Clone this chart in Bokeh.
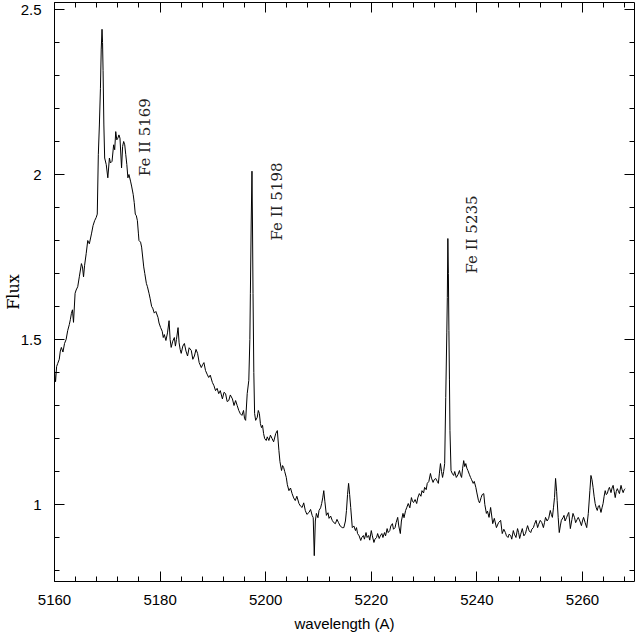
import math
from bokeh.plotting import figure
from bokeh.models import (ColumnDataSource, LinearAxis, SingleIntervalTicker,
                          Range1d, CustomJSTickFormatter)
from bokeh.embed import file_html
from bokeh.resources import INLINE
from bokeh.core.properties import value

# ---- spectrum (wavelength in Angstrom, flux) ----
wavelength = [
    5160.0, 5160.2, 5160.4, 5160.6, 5160.9, 5161.1, 5161.3, 5161.6, 5161.9, 5162.2,
    5162.5, 5162.8, 5163.0, 5163.2, 5163.4, 5163.6, 5163.9, 5164.1, 5164.4, 5164.7,
    5165.1, 5165.3, 5165.5, 5165.7, 5166.0, 5166.3, 5166.6, 5167.0, 5167.3, 5167.6,
    5167.9, 5168.1, 5168.3, 5168.5, 5168.7, 5168.85, 5169.0, 5169.1, 5169.2, 5169.35,
    5169.5, 5169.8, 5170.1, 5170.4, 5170.6, 5170.9, 5171.2, 5171.4, 5171.6, 5171.8,
    5172.0, 5172.2, 5172.4, 5172.7, 5172.9, 5173.1, 5173.3, 5173.5, 5173.7, 5173.9,
    5174.1, 5174.4, 5174.6, 5174.9, 5175.1, 5175.3, 5175.5, 5175.7, 5175.9, 5176.0,
    5176.3, 5176.5, 5176.7, 5176.9, 5177.1, 5177.4, 5177.6, 5177.9, 5178.1, 5178.4,
    5178.6, 5178.9, 5179.2, 5179.6, 5179.8, 5180.1, 5180.4, 5180.6, 5180.8, 5181.1,
    5181.4, 5181.7, 5181.9, 5182.1, 5182.4, 5182.7, 5182.9, 5183.1, 5183.4, 5183.6,
    5183.8, 5184.0, 5184.3, 5184.6, 5184.9, 5185.2, 5185.5, 5185.9, 5186.2, 5186.5,
    5186.8, 5187.1, 5187.4, 5187.8,
    5188.1, 5188.3, 5188.6, 5188.9, 5189.2, 5189.5, 5189.9, 5190.2, 5190.5, 5190.8,
    5191.1, 5191.4, 5191.8, 5192.1, 5192.4, 5192.7, 5193.0, 5193.3, 5193.7, 5194.0,
    5194.3, 5194.6, 5194.9, 5195.2, 5195.5, 5195.8, 5196.0, 5196.2, 5196.5, 5196.8,
    5197.0, 5197.1, 5197.25, 5197.4, 5197.5, 5197.6, 5197.75, 5197.9, 5198.1, 5198.4,
    5198.6, 5198.8, 5199.0, 5199.2, 5199.4, 5199.6, 5199.8, 5200.1, 5200.3, 5200.6,
    5200.9, 5201.2, 5201.5, 5201.9, 5202.2, 5202.5, 5202.7, 5203.0, 5203.2, 5203.4,
    5203.6, 5203.9, 5204.1, 5204.4, 5204.7, 5205.0, 5205.3, 5205.6, 5205.9, 5206.3,
    5206.6, 5206.9, 5207.2, 5207.5, 5207.8, 5208.2, 5208.5, 5208.8, 5209.0, 5209.2,
    5209.4, 5209.6, 5209.9, 5210.1, 5210.4, 5210.6, 5210.8, 5211.0, 5211.2, 5211.5,
    5211.8, 5212.0, 5212.3, 5212.6, 5212.9, 5213.2, 5213.5, 5213.8, 5214.1, 5214.5,
    5214.8, 5215.1, 5215.3, 5215.5, 5215.7, 5215.9, 5216.1, 5216.4, 5216.7, 5217.0,
    5217.2, 5217.4, 5217.7, 5218.0, 5218.2, 5218.5, 5218.7, 5219.0, 5219.2, 5219.5,
    5219.7, 5220.0, 5220.2, 5220.5, 5220.7, 5221.0, 5221.2, 5221.5, 5221.7, 5222.0,
    5222.2, 5222.5, 5222.7, 5223.0, 5223.2, 5223.5, 5223.7, 5224.0, 5224.2, 5224.5,
    5224.7, 5225.0, 5225.2, 5225.5, 5225.7, 5226.0, 5226.2, 5226.5, 5226.7, 5227.0,
    5227.3, 5227.6, 5227.8, 5228.0, 5228.3, 5228.6, 5228.8, 5229.1, 5229.4, 5229.6,
    5229.9, 5230.1, 5230.4, 5230.6, 5230.9, 5231.2, 5231.4, 5231.7, 5231.9, 5232.2,
    5232.5, 5232.7, 5232.9, 5233.1, 5233.3, 5233.5, 5233.7, 5233.9, 5234.1, 5234.3,
    5234.4, 5234.5, 5234.6, 5234.7, 5234.8, 5234.9, 5235.1, 5235.3, 5235.6, 5235.8,
    5236.1, 5236.4, 5236.7, 5236.9, 5237.1, 5237.3, 5237.5, 5237.7, 5237.9, 5238.1,
    5238.3, 5238.6, 5238.8, 5239.0, 5239.3, 5239.5, 5239.8, 5240.0, 5240.3, 5240.5,
    5240.8, 5241.0, 5241.3, 5241.5, 5241.8, 5242.0, 5242.3,
    5242.6, 5243.0, 5243.3, 5243.7, 5244.1, 5244.5, 5244.8, 5245.1, 5245.4, 5245.6,
    5245.9, 5246.1, 5246.4, 5246.6, 5246.9, 5247.1, 5247.4, 5247.7, 5247.9, 5248.1,
    5248.3, 5248.6, 5248.9, 5249.2, 5249.4, 5249.6, 5249.9, 5250.2, 5250.4, 5250.7,
    5250.9, 5251.2, 5251.5, 5251.7, 5252.0, 5252.3, 5252.6, 5252.8, 5253.0, 5253.3,
    5253.6, 5253.9, 5254.1, 5254.3, 5254.5, 5254.7, 5254.9, 5255.1, 5255.2, 5255.4,
    5255.6, 5255.8, 5256.0, 5256.3, 5256.5, 5256.7, 5257.0, 5257.2, 5257.4, 5257.7,
    5258.0, 5258.2, 5258.5, 5258.7, 5259.0, 5259.2, 5259.5, 5259.8, 5260.0, 5260.2,
    5260.5, 5260.8, 5261.1, 5261.4, 5261.6, 5261.8, 5262.0, 5262.2, 5262.4, 5262.6,
    5262.8, 5263.0, 5263.2, 5263.5, 5263.7, 5263.9, 5264.1, 5264.3, 5264.5, 5264.7,
    5264.9, 5265.1, 5265.4, 5265.6, 5265.8, 5266.0, 5266.2, 5266.4, 5266.6, 5266.8,
    5267.0, 5267.2, 5267.3, 5267.5, 5267.7, 5267.9, 5268.1,
]

flux = [
    1.405, 1.372, 1.418, 1.427, 1.440, 1.465, 1.476, 1.462, 1.488, 1.500,
    1.527, 1.545, 1.560, 1.579, 1.590, 1.552, 1.640, 1.650, 1.660, 1.690,
    1.730, 1.720, 1.690, 1.725, 1.760, 1.800, 1.790, 1.820, 1.845, 1.860,
    1.870, 1.880, 2.060, 2.150, 2.260, 2.380, 2.440, 2.400, 2.315, 2.150,
    2.050, 2.030, 1.990, 2.050, 2.035, 2.040, 2.090, 2.075, 2.130, 2.105,
    2.110, 2.120, 2.110, 2.020, 2.085, 2.100, 2.090, 2.060, 2.030, 1.990,
    2.000, 1.980, 1.965, 1.940, 1.915, 1.880, 1.875, 1.860, 1.820, 1.800,
    1.795, 1.780, 1.750, 1.720, 1.700, 1.670, 1.660, 1.640, 1.625, 1.600,
    1.595, 1.580, 1.585, 1.567, 1.550, 1.536, 1.525, 1.506, 1.515, 1.497,
    1.520, 1.557, 1.500, 1.476, 1.495, 1.506, 1.480, 1.500, 1.536, 1.490,
    1.470, 1.458, 1.480, 1.488, 1.465, 1.450, 1.475, 1.467, 1.440, 1.450,
    1.470, 1.458, 1.430, 1.415,
    1.425, 1.430, 1.406, 1.395, 1.385, 1.392, 1.370, 1.360, 1.345, 1.352,
    1.336, 1.345, 1.320, 1.340, 1.336, 1.312, 1.315, 1.332, 1.320, 1.300,
    1.315, 1.300, 1.285, 1.275, 1.270, 1.285, 1.260, 1.255, 1.336, 1.376,
    1.500, 1.640, 1.850, 2.010, 1.850, 1.640, 1.400, 1.276, 1.255, 1.264,
    1.285, 1.276, 1.245, 1.233, 1.240, 1.215, 1.200, 1.194, 1.205, 1.194,
    1.210, 1.200, 1.190, 1.215, 1.224, 1.164, 1.130, 1.103, 1.118, 1.112,
    1.100, 1.082, 1.060, 1.042, 1.050, 1.033, 1.020, 1.012, 1.025, 1.003,
    0.995, 0.991, 1.005, 0.982, 0.970, 0.976, 0.985, 0.967, 0.960, 0.845,
    0.950, 0.973, 0.960, 0.982, 0.990, 1.003, 1.020, 1.042, 1.010, 0.967,
    0.975, 0.958, 0.965, 0.952, 0.945, 0.942, 0.955, 0.945, 0.935, 0.930,
    0.930, 0.950, 0.982, 1.030, 1.064, 1.030, 0.991, 0.930, 0.935, 0.921,
    0.930, 0.912, 0.905, 0.891, 0.900, 0.906, 0.895, 0.915, 0.900, 0.906,
    0.892, 0.921, 0.905, 0.885, 0.895, 0.900, 0.912, 0.897, 0.905, 0.912,
    0.900, 0.915, 0.905, 0.927, 0.915, 0.921, 0.935, 0.942, 0.925, 0.930,
    0.945, 0.961, 0.935, 0.912, 0.950, 0.973, 0.960, 0.982, 0.990, 1.003,
    0.990, 1.021, 1.010, 1.006, 1.015, 1.003, 1.020, 1.033, 1.025, 1.042,
    1.035, 1.052, 1.045, 1.064, 1.070, 1.094, 1.080, 1.067, 1.075, 1.079,
    1.070, 1.064, 1.095, 1.124, 1.100, 1.082, 1.100, 1.124, 1.324, 1.520,
    1.627, 1.806, 1.700, 1.527, 1.380, 1.224, 1.103, 1.095, 1.088, 1.100,
    1.082, 1.090, 1.103, 1.090, 1.082, 1.110, 1.133, 1.115, 1.124, 1.110,
    1.103, 1.090, 1.082, 1.075, 1.064, 1.070, 1.052, 1.035, 1.012, 1.005,
    1.021, 1.030, 1.033, 1.000, 0.973, 0.980, 0.961,
    0.991, 0.942, 0.958, 0.930, 0.945, 0.952, 0.912, 0.925, 0.915, 0.905,
    0.900, 0.910, 0.906, 0.895, 0.921, 0.910, 0.900, 0.927, 0.915, 0.897,
    0.910, 0.927, 0.905, 0.912, 0.925, 0.936, 0.920, 0.915, 0.925, 0.930,
    0.940, 0.952, 0.930, 0.940, 0.952, 0.945, 0.930, 0.945, 0.961, 0.950,
    0.958, 0.982, 0.970, 0.961, 0.990, 1.021, 1.079, 1.040, 1.012, 0.960,
    0.915, 0.935, 0.952, 0.960, 0.967, 0.950, 0.961, 0.970, 0.976, 0.927,
    0.955, 0.973, 0.960, 0.945, 0.955, 0.961, 0.950, 0.936, 0.950, 0.961,
    0.945, 0.930, 0.973, 1.042, 1.088, 1.075, 1.052, 1.025, 1.003, 0.990,
    0.982, 0.995, 0.997, 0.976, 0.990, 1.003, 1.025, 1.042, 1.030, 1.033,
    1.045, 1.052, 1.036, 1.050, 1.058, 1.040, 1.021, 1.040, 1.048, 1.040,
    1.033, 1.050, 1.058, 1.045, 1.036, 1.045, 1.048,
]

# ---- line identifications ----
line_names = ["Fe II 5169", "Fe II 5198", "Fe II 5235"]
line_label_x = [5177.2, 5202.2, 5239.0]
line_label_y = [1.995, 1.80, 1.70]

# ---- axes ----
x_start, x_end = 5160, 5269.85
y_start, y_end = 0.7667, 2.5212
x_major_step, x_minor_per_major = 20, 4
y_major_step, y_minor_per_major = 0.5, 5
x_title = "wavelength (A)"
y_title = "Flux"

SANS = "Liberation Sans"
SERIF = "DejaVu Serif"

p = figure(width=635, height=634, output_backend="svg", toolbar_location=None,
           x_range=Range1d(x_start, x_end), y_range=Range1d(y_start, y_end),
           min_border_left=54, min_border_right=1, min_border_top=2,
           min_border_bottom=53, x_axis_label=x_title, y_axis_label=y_title)
p.outline_line_color = None
p.xgrid.visible = False
p.ygrid.visible = False
p.background_fill_color = "white"
p.border_fill_color = "white"

fmt = CustomJSTickFormatter(code="return tick.toString();")
blank = CustomJSTickFormatter(code="return '';")


def style_axis(ax, show_labels=True):
    ax.axis_line_color = "black"
    ax.axis_line_width = 1
    ax.major_tick_line_color = "black"
    ax.minor_tick_line_color = "black"
    ax.major_tick_in = 10
    ax.major_tick_out = 0
    ax.minor_tick_in = 5
    ax.minor_tick_out = 0
    if show_labels:
        ax.formatter = fmt
        ax.major_label_text_font = SANS
        ax.major_label_text_font_size = "15px"
        ax.major_label_text_color = "black"
    else:
        ax.formatter = blank
        ax.major_label_standoff = 0


xax = p.xaxis[0]
xax.ticker = SingleIntervalTicker(interval=x_major_step, num_minor_ticks=x_minor_per_major + 1)
style_axis(xax)
xax.major_label_standoff = 13
xax.axis_label_standoff = 7
xax.axis_label_text_font = SANS
xax.axis_label_text_font_size = "15px"
xax.axis_label_text_font_style = "normal"
xax.axis_label_text_color = "black"

yax = p.yaxis[0]
yax.ticker = SingleIntervalTicker(interval=y_major_step, num_minor_ticks=y_minor_per_major)
style_axis(yax)
yax.major_label_standoff = 13
yax.axis_label_standoff = -5
yax.axis_label_text_font = SERIF
yax.axis_label_text_font_size = "16px"
yax.axis_label_text_font_style = "normal"
yax.axis_label_text_color = "black"

top = LinearAxis(ticker=SingleIntervalTicker(interval=x_major_step, num_minor_ticks=x_minor_per_major + 1))
style_axis(top, show_labels=False)
p.add_layout(top, "above")

right = LinearAxis(ticker=SingleIntervalTicker(interval=y_major_step, num_minor_ticks=y_minor_per_major))
style_axis(right, show_labels=False)
p.add_layout(right, "right")

# spectrum
p.line(wavelength, flux, line_color="black", line_width=1)

# line identifications
src = ColumnDataSource(dict(x=line_label_x, y=line_label_y, text=line_names))
p.text(x="x", y="y", text="text", source=src, angle=math.pi / 2,
       text_font=value(SERIF), text_font_size=value("15px"),
       text_align="left", text_baseline="middle", text_color="#222222")

open("out.html", "w").write(file_html(p, INLINE))
